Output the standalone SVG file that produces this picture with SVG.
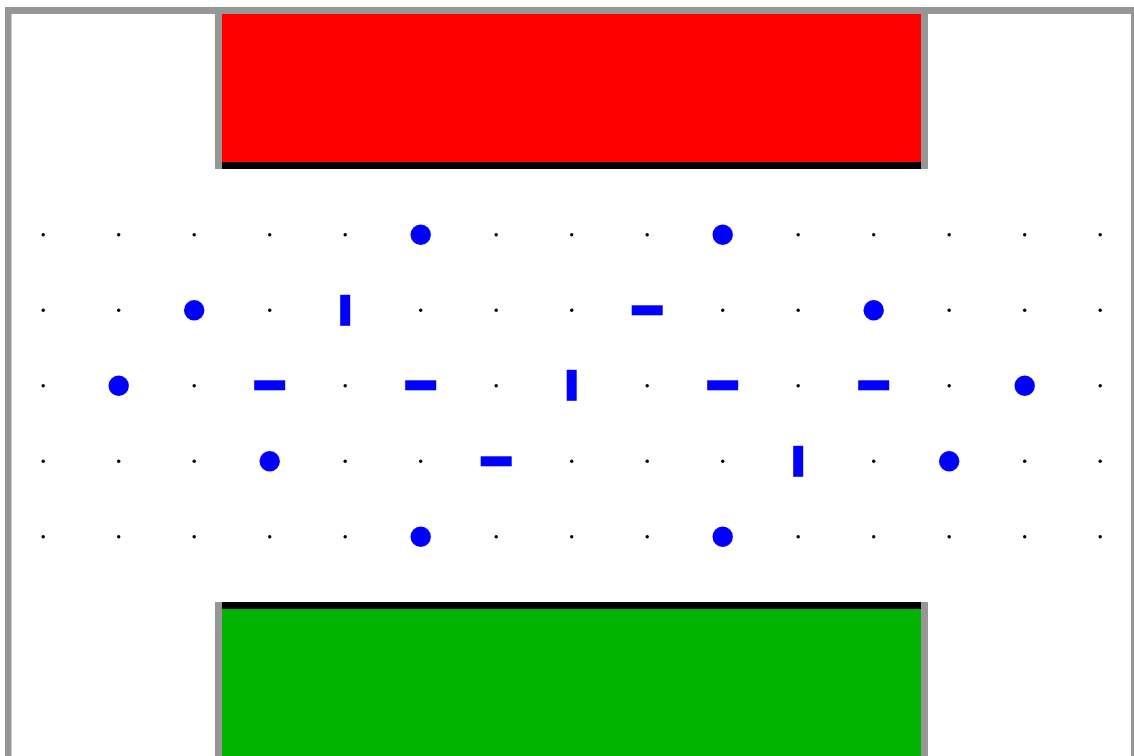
<svg xmlns="http://www.w3.org/2000/svg" width="1134" height="756" viewBox="0 0 1134 756">
  <style>
    .wall { fill: #969696; }
    .dot { fill: #000000; }
    .ball { fill: #0000ff; }
    .bar { fill: #0000ff; }
  </style>
  <defs>
    <circle id="d" r="1.7" class="dot"/>
    <circle id="c" r="10.2" class="ball"/>
    <rect id="h" x="-15.5" y="-5" width="31" height="10" class="bar"/>
    <rect id="v" x="-5" y="-15.5" width="10" height="31" class="bar"/>
  </defs>
  <rect width="1134" height="756" fill="#ffffff"/>
  <g id="border">
    <path class="wall" fill-rule="evenodd" d="M5 7 H1141 V770 H5 Z M11.5 14 V770 H1131 V14 Z"/>
  </g>
  <g id="goal-red">
    <rect class="wall" x="215" y="7" width="7" height="162"/>
    <rect class="wall" x="921" y="7" width="7" height="162"/>
    <rect x="222" y="14" width="699" height="148" fill="#ff0000"/>
    <rect x="222" y="162" width="699" height="7" fill="#000000"/>
  </g>
  <g id="goal-green">
    <rect class="wall" x="215" y="602" width="7" height="160"/>
    <rect class="wall" x="921" y="602" width="7" height="160"/>
    <rect x="222" y="609" width="699" height="150" fill="#00b400"/>
    <rect x="222" y="602" width="699" height="7" fill="#000000"/>
  </g>
  <g id="grid">
    <g transform="translate(0,234.8)">
      <use href="#d" x="43.2"/><use href="#d" x="118.7"/><use href="#d" x="194.2"/><use href="#d" x="269.7"/><use href="#d" x="345.2"/><use href="#d" x="420.7"/><use href="#d" x="496.2"/><use href="#d" x="571.7"/><use href="#d" x="647.2"/><use href="#d" x="722.7"/><use href="#d" x="798.2"/><use href="#d" x="873.7"/><use href="#d" x="949.2"/><use href="#d" x="1024.7"/><use href="#d" x="1100.2"/>
    </g>
    <g transform="translate(0,310.3)">
      <use href="#d" x="43.2"/><use href="#d" x="118.7"/><use href="#d" x="194.2"/><use href="#d" x="269.7"/><use href="#d" x="345.2"/><use href="#d" x="420.7"/><use href="#d" x="496.2"/><use href="#d" x="571.7"/><use href="#d" x="647.2"/><use href="#d" x="722.7"/><use href="#d" x="798.2"/><use href="#d" x="873.7"/><use href="#d" x="949.2"/><use href="#d" x="1024.7"/><use href="#d" x="1100.2"/>
    </g>
    <g transform="translate(0,385.8)">
      <use href="#d" x="43.2"/><use href="#d" x="118.7"/><use href="#d" x="194.2"/><use href="#d" x="269.7"/><use href="#d" x="345.2"/><use href="#d" x="420.7"/><use href="#d" x="496.2"/><use href="#d" x="571.7"/><use href="#d" x="647.2"/><use href="#d" x="722.7"/><use href="#d" x="798.2"/><use href="#d" x="873.7"/><use href="#d" x="949.2"/><use href="#d" x="1024.7"/><use href="#d" x="1100.2"/>
    </g>
    <g transform="translate(0,461.3)">
      <use href="#d" x="43.2"/><use href="#d" x="118.7"/><use href="#d" x="194.2"/><use href="#d" x="269.7"/><use href="#d" x="345.2"/><use href="#d" x="420.7"/><use href="#d" x="496.2"/><use href="#d" x="571.7"/><use href="#d" x="647.2"/><use href="#d" x="722.7"/><use href="#d" x="798.2"/><use href="#d" x="873.7"/><use href="#d" x="949.2"/><use href="#d" x="1024.7"/><use href="#d" x="1100.2"/>
    </g>
    <g transform="translate(0,536.8)">
      <use href="#d" x="43.2"/><use href="#d" x="118.7"/><use href="#d" x="194.2"/><use href="#d" x="269.7"/><use href="#d" x="345.2"/><use href="#d" x="420.7"/><use href="#d" x="496.2"/><use href="#d" x="571.7"/><use href="#d" x="647.2"/><use href="#d" x="722.7"/><use href="#d" x="798.2"/><use href="#d" x="873.7"/><use href="#d" x="949.2"/><use href="#d" x="1024.7"/><use href="#d" x="1100.2"/>
    </g>
  </g>
  <g id="pieces">
    <use href="#c" x="420.7" y="234.8"/>
    <use href="#c" x="722.7" y="234.8"/>
    <use href="#c" x="194.2" y="310.3"/>
    <use href="#v" x="345.2" y="310.3"/>
    <use href="#h" x="647.2" y="310.3"/>
    <use href="#c" x="873.7" y="310.3"/>
    <use href="#c" x="118.7" y="385.8"/>
    <use href="#h" x="269.7" y="385.3"/>
    <use href="#h" x="420.7" y="385.3"/>
    <use href="#v" x="571.7" y="385.3"/>
    <use href="#h" x="722.7" y="385.3"/>
    <use href="#h" x="873.7" y="385.3"/>
    <use href="#c" x="1024.7" y="385.8"/>
    <use href="#c" x="269.7" y="461.3"/>
    <use href="#h" x="496.2" y="461.3"/>
    <use href="#v" x="798.2" y="461.3"/>
    <use href="#c" x="949.2" y="461.3"/>
    <use href="#c" x="420.7" y="536.8"/>
    <use href="#c" x="722.7" y="536.8"/>
  </g>
</svg>
